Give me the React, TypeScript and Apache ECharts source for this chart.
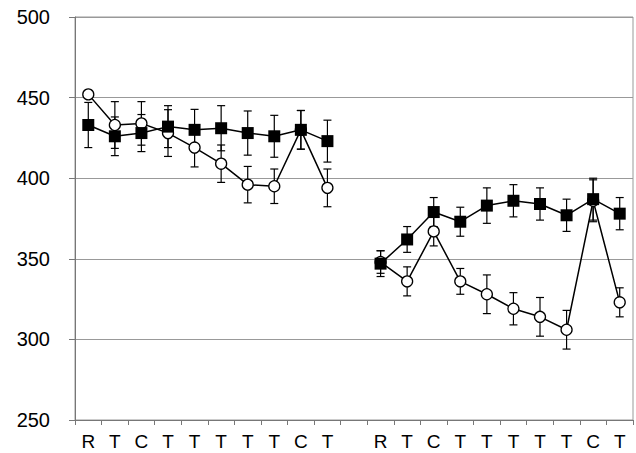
import React, { useEffect, useRef } from "react";
import * as echarts from "echarts";

const categories = ["R", "T", "C", "T", "T", "T", "T", "T", "C", "T", "", "R", "T", "C", "T", "T", "T", "T", "T", "C", "T"];
const squareMean = [433, 426, 428, 432, 430, 431, 428, 426, 430, 423, null, 347, 362, 379, 373, 383, 386, 384, 377, 387, 378];
const squareErr = [14, 12, 11.5, 13, 12.7, 14, 13.7, 13, 12, 13, null, 8, 8, 9, 9, 11, 10, 10, 10, 13, 10];
const circleMean = [452, 433, 434, 428, 419, 409, 396, 395, 430, 394, null, 348, 336, 367, 336, 328, 319, 314, 306, 386, 323];
const circleErr = [0, 14.5, 13.5, 14.5, 12, 11.6, 11.3, 10.7, 12, 11.7, null, 7, 9, 9, 8, 12, 10, 12, 12, 13, 9];
const yTicks = { min: 250, max: 500, interval: 50 };

function errData(mean: (number | null)[], err: (number | null)[]) {
  const out: number[][] = [];
  mean.forEach((m, i) => {
    const e = err[i];
    if (m == null || e == null || e === 0) return;
    out.push([i, m - e, m + e]);
  });
  return out;
}

const renderErr = (params: any, api: any) => {
  const x = api.value(0);
  const lo = api.coord([x, api.value(1)]);
  const hi = api.coord([x, api.value(2)]);
  const hw = 4;
  const style = { stroke: "#000", lineWidth: 1.2 };
  return {
    type: "group",
    children: [
      { type: "line", shape: { x1: lo[0], y1: lo[1], x2: hi[0], y2: hi[1] }, style },
      { type: "line", shape: { x1: lo[0] - hw, y1: lo[1], x2: lo[0] + hw, y2: lo[1] }, style },
      { type: "line", shape: { x1: hi[0] - hw, y1: hi[1], x2: hi[0] + hw, y2: hi[1] }, style },
    ],
  };
};

export default function App() {
  const ref = useRef<HTMLDivElement>(null);
  useEffect(() => {
    document.body.style.margin = "0";
    if (!ref.current) return;
    const chart = echarts.init(ref.current, null, { renderer: "svg" });
    const font = "Liberation Sans, Arial, sans-serif";
    chart.setOption({
      animation: false,
      grid: { left: 75, right: 3, top: 17, bottom: 33, show: true, borderColor: "#999", borderWidth: 1 },
      xAxis: {
        type: "category",
        data: categories,
        boundaryGap: true,
        axisLine: { lineStyle: { color: "#777", width: 1 } },
        axisTick: { show: true, length: 5, lineStyle: { color: "#777" }, interval: 0 },
        axisLabel: { color: "#000", fontSize: 19, fontFamily: font, margin: 12, interval: 0 },
      },
      yAxis: {
        type: "value",
        min: yTicks.min,
        max: yTicks.max,
        interval: yTicks.interval,
        axisLine: { show: true, lineStyle: { color: "#777", width: 1 } },
        axisTick: { show: true, length: 6, lineStyle: { color: "#777" } },
        axisLabel: { color: "#000", fontSize: 20, fontFamily: font, margin: 25 },
        splitLine: { show: true, lineStyle: { color: "#999", width: 1 } },
      },
      series: [
        {
          type: "custom",
          renderItem: renderErr,
          data: errData(squareMean, squareErr),
          encode: { x: 0, y: [1, 2] },
          z: 1,
        },
        {
          type: "custom",
          renderItem: renderErr,
          data: errData(circleMean, circleErr),
          encode: { x: 0, y: [1, 2] },
          z: 1,
        },
        {
          type: "line",
          data: circleMean,
          symbol: "circle",
          symbolSize: 11,
          showAllSymbol: true,
          lineStyle: { color: "#000", width: 1.5 },
          itemStyle: { color: "#fff", borderColor: "#000", borderWidth: 1.3 },
          z: 2,
        },
        {
          type: "line",
          data: squareMean,
          symbol: "rect",
          symbolSize: 12,
          showAllSymbol: true,
          lineStyle: { color: "#000", width: 1.5 },
          itemStyle: { color: "#000", borderColor: "#000", borderWidth: 0 },
          z: 3,
        },
      ],
    });
    return () => chart.dispose();
  }, []);
  return <div ref={ref} style={{ width: 636, height: 453 }} />;
}
